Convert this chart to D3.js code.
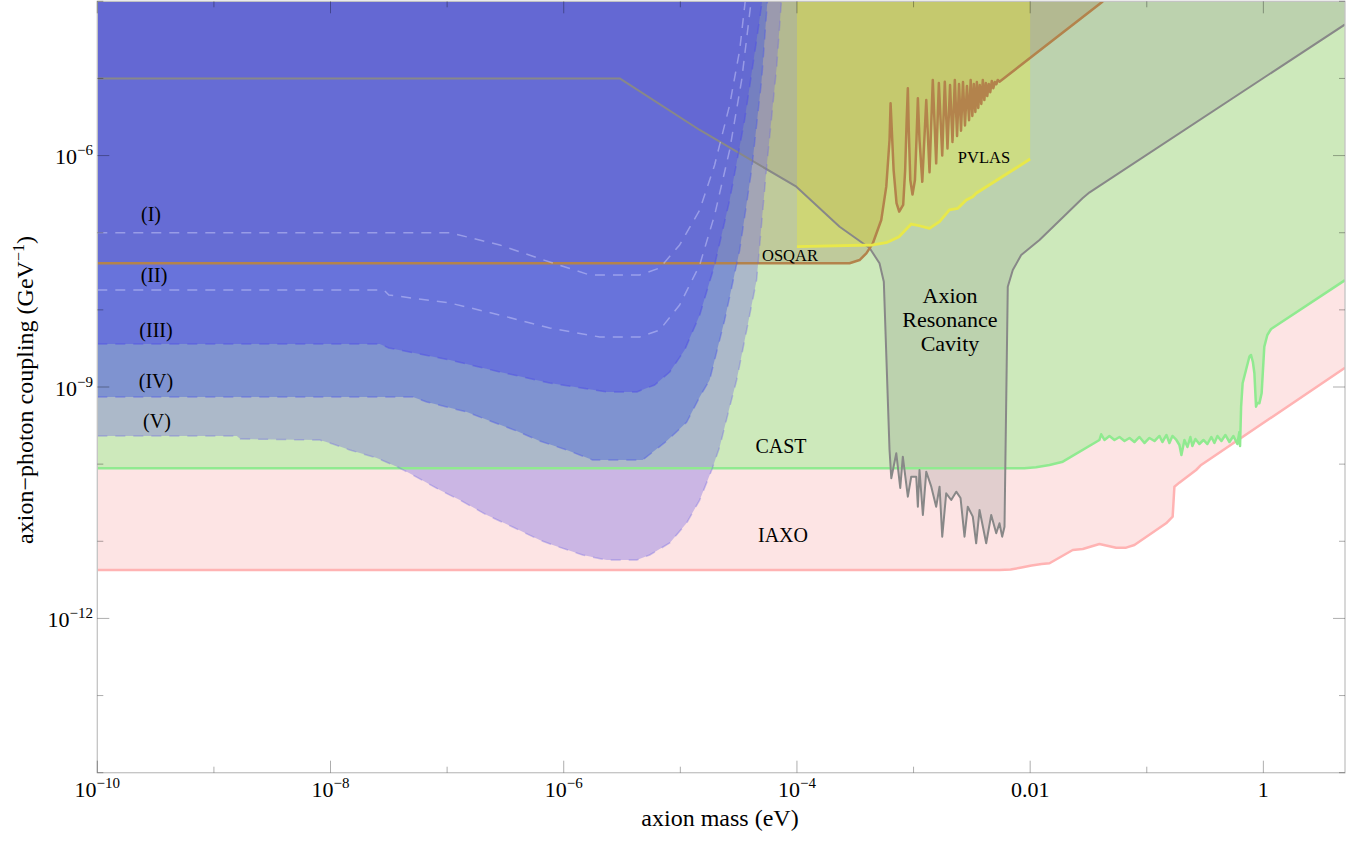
<!DOCTYPE html>
<html><head><meta charset="utf-8">
<script src="https://cdn.jsdelivr.net/npm/d3@7"></script>
<style>body{margin:0;background:#fff} text{font-family:"Liberation Serif","Times New Roman",serif;}</style>
</head><body>
<svg id="c" width="1369" height="842"></svg>
<script>
// All data as [log10(mass / eV), log10(g / GeV^-1)]
const iaxo = [[-10,-11.372],[-2.263,-11.372],[-2.168,-11.366],[-2.074,-11.340],[-1.988,-11.314],[-1.902,-11.295],[-1.834,-11.285],[-1.635,-11.113],[-1.549,-11.100],[-1.406,-11.035],[-1.263,-11.083],[-1.177,-11.083],[-1.106,-11.048],[-0.834,-10.767],[-0.778,-10.681],[-0.763,-10.292],[-0.721,-10.240],[-0.577,-10.076],[-0.534,-10.011],[0.7,-8.75]];
const cast = [[-10,-10.054],[-2.263,-10.054],[-2.05,-10.052],[-1.95,-10.040],[-1.834,-10.012],[-1.72,-9.968],[-1.406,-9.687],[-1.391,-9.613],[-1.363,-9.687],[-1.320,-9.635],[-1.277,-9.687],[-1.234,-9.648],[-1.191,-9.700],[-1.148,-9.661],[-1.106,-9.713],[-1.063,-9.648],[-1.020,-9.726],[-0.977,-9.661],[-0.934,-9.700],[-0.891,-9.635],[-0.866,-9.713],[-0.831,-9.622],[-0.806,-9.726],[-0.780,-9.635],[-0.746,-9.687],[-0.720,-9.752],[-0.703,-9.881],[-0.677,-9.687],[-0.651,-9.778],[-0.626,-9.648],[-0.609,-9.765],[-0.583,-9.674],[-0.549,-9.739],[-0.514,-9.687],[-0.480,-9.739],[-0.446,-9.648],[-0.420,-9.726],[-0.394,-9.635],[-0.360,-9.700],[-0.326,-9.622],[-0.291,-9.713],[-0.257,-9.635],[-0.223,-9.739],[-0.206,-9.583],[-0.200,-9.765],[-0.191,-9.255],[-0.178,-8.952],[-0.149,-8.779],[-0.120,-8.607],[-0.106,-8.585],[-0.090,-8.676],[-0.077,-8.822],[-0.063,-9.255],[-0.052,-9.207],[-0.034,-9.211],[-0.015,-9.082],[0.008,-8.477],[0.034,-8.326],[0.066,-8.248],[0.7,-7.615]];
const cavity = [[-10,-5.0],[-5.520,-5.0],[-4.834,-5.668],[-4.005,-6.403],[-3.634,-6.922],[-3.377,-7.198],[-3.292,-7.396],[-3.255,-7.635],[-3.206,-9.817],[-3.191,-10.183],[-3.148,-9.859],[-3.114,-10.309],[-3.092,-9.903],[-3.049,-10.422],[-3.020,-10.163],[-2.977,-10.163],[-2.963,-10.552],[-2.949,-10.076],[-2.920,-10.659],[-2.891,-10.098],[-2.848,-10.292],[-2.806,-10.552],[-2.777,-10.292],[-2.754,-10.940],[-2.720,-10.378],[-2.677,-10.465],[-2.634,-10.357],[-2.597,-10.439],[-2.563,-10.940],[-2.535,-10.552],[-2.492,-10.681],[-2.463,-11.026],[-2.434,-10.594],[-2.377,-11.026],[-2.334,-10.659],[-2.291,-10.896],[-2.263,-10.767],[-2.240,-10.940],[-2.220,-10.811],[-2.192,-7.700],[-2.149,-7.483],[-2.077,-7.289],[-1.920,-7.094],[-1.551,-6.554],[-1.49,-6.476],[0.7,-4.30]];
const osqar = [[-10,-7.396],[-3.549,-7.396],[-3.463,-7.354],[-3.405,-7.267],[-3.349,-7.137],[-3.277,-6.835],[-3.234,-6.403],[-3.206,-5.798],[-3.197,-5.322],[-3.171,-6.188],[-3.146,-6.615],[-3.123,-6.727],[-3.089,-6.640],[-3.072,-6.188],[-3.059,-5.539],[-3.049,-5.128],[-3.041,-5.668],[-3.028,-6.317],[-3.009,-6.506],[-2.988,-6.317],[-2.975,-5.798],[-2.963,-5.257],[-2.949,-5.798],[-2.925,-6.340],[-2.891,-5.279],[-2.863,-6.215],[-2.835,-5.020],[-2.806,-6.101],[-2.783,-5.059],[-2.754,-5.999],[-2.732,-5.042],[-2.709,-5.908],[-2.687,-5.085],[-2.666,-5.823],[-2.646,-5.020],[-2.627,-5.746],[-2.610,-5.072],[-2.593,-5.677],[-2.576,-5.046],[-2.559,-5.610],[-2.542,-5.098],[-2.524,-5.541],[-2.510,-5.020],[-2.496,-5.486],[-2.483,-5.072],[-2.470,-5.434],[-2.457,-5.046],[-2.445,-5.383],[-2.432,-5.085],[-2.419,-5.331],[-2.406,-5.020],[-2.393,-5.281],[-2.380,-5.059],[-2.368,-5.229],[-2.355,-5.072],[-2.342,-5.178],[-2.329,-5.033],[-2.316,-5.126],[-2.303,-5.046],[-2.290,-5.076],[-2.278,-5.020],[-2.263,-5.042],[-1.380,-4.005],[-1.32,-3.918]];
const pvlasMass = [-4, -2];
const pvlas = [[-4.0,-7.181],[-3.349,-7.159],[-3.234,-7.129],[-3.123,-7.051],[-3.020,-6.887],[-2.977,-6.900],[-2.863,-6.943],[-2.777,-6.857],[-2.692,-6.705],[-2.620,-6.683],[-2.548,-6.576],[-2.492,-6.533],[-2.463,-6.489],[-2.0,-6.045]];
const region1 = [[-10,-7.0],[-6.977,-7.0],[-6.548,-7.159],[-6.120,-7.380],[-5.777,-7.548],[-5.349,-7.548],[-5.177,-7.457],[-5.006,-7.159],[-4.834,-6.706],[-4.706,-6.122],[-4.577,-5.344],[-4.491,-4.631],[-4.440,-3.95]];
const region2 = [[-10,-7.742],[-7.543,-7.742],[-7.500,-7.807],[-6.977,-7.911],[-6.548,-8.067],[-6.120,-8.235],[-5.691,-8.352],[-5.349,-8.352],[-5.177,-8.261],[-5.006,-7.937],[-4.834,-7.418],[-4.706,-6.770],[-4.577,-5.928],[-4.474,-5.020],[-4.389,-3.95]];
const region3 = [[-10,-8.442],[-7.577,-8.442],[-7.500,-8.494],[-6.977,-8.650],[-6.548,-8.805],[-6.120,-8.948],[-5.631,-9.064],[-5.374,-9.064],[-5.220,-8.974],[-5.091,-8.805],[-4.963,-8.520],[-4.834,-8.067],[-4.706,-7.418],[-4.577,-6.576],[-4.449,-5.539],[-4.346,-4.502],[-4.294,-3.95]];
const region4 = [[-10,-9.129],[-7.294,-9.129],[-7.174,-9.194],[-7.003,-9.259],[-6.831,-9.324],[-6.608,-9.453],[-6.403,-9.570],[-6.206,-9.700],[-5.974,-9.817],[-5.751,-9.946],[-5.323,-9.946],[-5.117,-9.700],[-4.946,-9.457],[-4.834,-9.129],[-4.749,-8.909],[-4.620,-8.131],[-4.491,-7.224],[-4.389,-6.187],[-4.303,-5.020],[-4.251,-3.95]];
const region5 = [[-10,-9.635],[-8.803,-9.635],[-8.774,-9.674],[-8.091,-9.687],[-7.980,-9.739],[-7.834,-9.817],[-7.603,-9.920],[-7.406,-10.050],[-7.294,-10.141],[-7.063,-10.335],[-6.891,-10.465],[-6.660,-10.659],[-6.437,-10.815],[-6.206,-10.983],[-6.094,-11.048],[-5.837,-11.178],[-5.631,-11.243],[-5.374,-11.243],[-5.263,-11.178],[-5.091,-11.022],[-4.946,-10.763],[-4.834,-10.465],[-4.731,-10.076],[-4.663,-9.778],[-4.577,-9.259],[-4.517,-8.909],[-4.431,-8.261],[-4.346,-7.613],[-4.260,-6.148],[-4.174,-4.852],[-4.131,-3.95]];
const xTickExps = [-10,-9,-8,-7,-6,-5,-4,-3,-2,-1,0];
const xTickLabels = {"-10":["10","−10"],"-8":["10","−8"],"-6":["10","−6"],"-4":["10","−4"],"-2":["0.01",""],"0":["1",""]};
const yTickExps = [-14,-13,-12,-11,-10,-9,-8,-7,-6,-5,-4];
const yTickLabels = {"-12":["10","−12"],"-9":["10","−9"],"-6":["10","−6"]};

const svg = d3.select("#c");
const x = d3.scaleLog().domain([1e-10, Math.pow(10,0.7)]).range([97.3, 1345]);
const y = d3.scaleLog().domain([1e-14, 1e-4]).range([772.7, 1.3]);
const [X0,X1] = x.range(), [Y0,Y1] = y.range();
const P = d => [x(Math.pow(10,d[0])), y(Math.pow(10,d[1]))];
const line = d3.line();
function above(data){
  const pts = data.map(P);
  const f = pts[0], l = pts[pts.length-1];
  return line(pts.concat([[l[0]+ (l[0]>=X1?10:0), Y1-10],[f[0]-10, Y1-10],[f[0]-10,f[1]]]))+"Z";
}
svg.append("defs").append("clipPath").attr("id","clip").append("rect")
  .attr("x",X0).attr("y",Y1).attr("width",X1-X0).attr("height",Y0-Y1);
const g = svg.append("g").attr("clip-path","url(#clip)");

// fills
g.append("path").attr("d",above(iaxo)).attr("fill","#fde4e4");
g.append("path").attr("d",above(cast)).attr("fill","#cde9bb");
g.append("path").attr("d",above(cavity)).attr("fill","rgba(128,128,128,0.22)");
g.append("path").attr("d",above(osqar)).attr("fill","rgba(150,110,60,0.25)");
const pv = [[pvlasMass[0],-3.9]].concat(pvlas).concat([[pvlasMass[1],-3.9]]);
g.append("path").attr("d",line(pv.map(P))+"Z").attr("fill","rgba(255,255,0,0.24)");
const regions = [
  {d:region5, fill:"rgba(115,100,228,0.36)", stroke:"rgba(110,100,230,0.35)"},
  {d:region4, fill:"rgba(60,90,220,0.40)", stroke:"rgba(80,90,230,0.45)"},
  {d:region3, fill:"rgba(80,80,230,0.45)", stroke:"rgba(80,80,230,0.5)"},
  {d:region2, fill:"rgba(100,100,230,0.06)", stroke:"rgba(215,215,255,0.45)"},
  {d:region1, fill:"rgba(100,100,230,0.06)", stroke:"rgba(215,215,255,0.45)"}
];
regions.forEach(r=> g.append("path").attr("d",above(r.d)).attr("fill",r.fill));

// lines
const L = (data,color,w,dash) => g.append("path").attr("d",line(data.map(P))).attr("fill","none")
   .attr("stroke",color).attr("stroke-width",w).attr("stroke-linejoin","round").attr("stroke-dasharray",dash||null);
L(iaxo,"#ffb3b3",2.5);
L(cast,"#90ea90",2.5);
L(cavity,"#888888",2);
L(osqar,"#b3834c",2.5);
L(pvlas,"#e8e84a",2.8);
regions.forEach(r=> L(r.d, r.stroke, 1.5, "10,8"));

// frame & ticks
const ax = svg.append("g");
ax.append("rect").attr("x",X0).attr("y",Y1).attr("width",X1-X0).attr("height",Y0-Y1)
  .attr("fill","none").attr("stroke","#c4c4c4").attr("stroke-width",1.3);
const tickC = "rgba(0,0,0,0.32)";
xTickExps.forEach(k=>{
  const px = x(Math.pow(10,k)), len = (k%2===0)?12:6;
  ax.append("line").attr("x1",px).attr("x2",px).attr("y1",Y0).attr("y2",Y0-len).attr("stroke",tickC);
  ax.append("line").attr("x1",px).attr("x2",px).attr("y1",Y1).attr("y2",Y1+len).attr("stroke",tickC);
  const lab = xTickLabels[String(k)];
  if(lab){
    const t = ax.append("text").attr("x",px).attr("y",797).attr("text-anchor","middle").attr("font-size",22);
    t.append("tspan").text(lab[0]);
    if(lab[1]) t.append("tspan").attr("font-size",15).attr("dy",-9).text(lab[1]);
  }
});
yTickExps.forEach(k=>{
  const py = y(Math.pow(10,k)), len = (k%3===0)?12:6;
  ax.append("line").attr("x1",X0).attr("x2",X0+len).attr("y1",py).attr("y2",py).attr("stroke",tickC);
  ax.append("line").attr("x1",X1).attr("x2",X1-len).attr("y1",py).attr("y2",py).attr("stroke",tickC);
  const lab = yTickLabels[String(k)];
  if(lab){
    const t = ax.append("text").attr("x",93).attr("y",py+8.5).attr("text-anchor","end").attr("font-size",22);
    t.append("tspan").text(lab[0]);
    t.append("tspan").attr("font-size",15).attr("dy",-9).text(lab[1]);
  }
});
// axis titles
ax.append("text").attr("x",720).attr("y",826).attr("text-anchor","middle").attr("font-size",24).text("axion mass (eV)");
const yt = ax.append("text").attr("transform","translate(33,390) rotate(-90)").attr("text-anchor","middle").attr("font-size",24);
yt.append("tspan").text("axion−photon coupling (GeV");
yt.append("tspan").attr("font-size",16).attr("dy",-9).text("−1");
yt.append("tspan").attr("dy",9).text(")");

// labels
const lab = (t,px,py,fs) => svg.append("text").attr("x",px).attr("y",py).attr("text-anchor","middle").attr("font-size",fs).text(t);
lab("(I)",151,221,20); lab("(II)",154,282,20); lab("(III)",156,337,20); lab("(IV)",156,388,20); lab("(V)",157,428,20);
lab("OSQAR",790,261,16.5); lab("PVLAS",984,163,16.5);
lab("Axion",950,303,22); lab("Resonance",950,327,22); lab("Cavity",950,351,22);
lab("CAST",781,453,20); lab("IAXO",783,542,20);
</script>
</body></html>
